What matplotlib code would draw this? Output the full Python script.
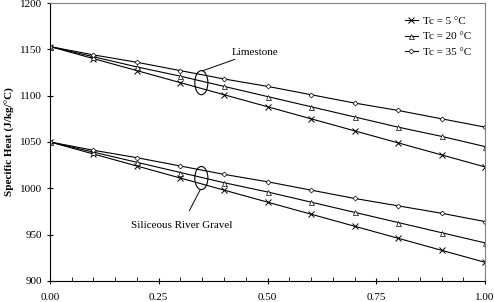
import matplotlib.pyplot as plt
from matplotlib.patches import Ellipse
from matplotlib.ticker import MultipleLocator

plt.rcParams['font.family'] = ['Liberation Serif', 'DejaVu Serif']

# moisture ratio on the x axis
x = [0.0, 0.1, 0.2, 0.3, 0.4, 0.5, 0.6, 0.7, 0.8, 0.9, 1.0]

# Limestone
lime_5 = [1153, 1140, 1127, 1114, 1101, 1088, 1075, 1062, 1049, 1036, 1023]
lime_20 = [1153, 1142, 1131, 1121, 1110, 1099, 1088, 1077, 1066, 1056, 1045]
lime_35 = [1153, 1144, 1136, 1127, 1118, 1110, 1101, 1092, 1084, 1075, 1066]

# Siliceous river gravel
sil_5 = [1050, 1037, 1024, 1011, 998, 985, 972, 959, 946, 933, 920]
sil_20 = [1050, 1039, 1028, 1017, 1006, 996, 985, 974, 963, 952, 941]
sil_35 = [1050, 1041, 1033, 1024, 1015, 1007, 998, 989, 981, 973, 964]

labels = ["Tc = 5 \u00b0C", "Tc = 20 \u00b0C", "Tc = 35 \u00b0C"]

fig = plt.figure(figsize=(4.94, 3.02), dpi=100)
ax = fig.add_axes([0.101, 0.070, 0.881, 0.920])

styles = [
    dict(marker="x", markersize=4, mew=0.7),
    dict(marker="^", markersize=3.6, mfc="white", mew=0.5),
    dict(marker="D", markersize=2.5, mfc="white", mew=0.5),
]

for ys, lab, st in zip([lime_5, lime_20, lime_35], labels, styles):
    ax.plot(x, ys, color="black", lw=0.8, label=lab, **st)
for ys, st in zip([sil_5, sil_20, sil_35], styles):
    ax.plot(x, ys, color="black", lw=0.8, **st)

# ellipses marking each group
ax.add_patch(Ellipse((0.348, 1114), 0.030, 26, fill=False, lw=0.8, ec="black"))
ax.add_patch(Ellipse((0.348, 1011), 0.030, 25, fill=False, lw=0.8, ec="black"))

ax.annotate("Limestone", xy=(0.352, 1127), xytext=(0.418, 1147),
            fontsize=8, va="center", ha="left",
            arrowprops=dict(arrowstyle="-", lw=0.7, color="black", shrinkA=0, shrinkB=0))
ax.annotate("Siliceous River Gravel", xy=(0.345, 998), xytext=(0.303, 960),
            fontsize=8, va="center", ha="center",
            arrowprops=dict(arrowstyle="-", lw=0.7, color="black", shrinkA=6, shrinkB=0))

ax.set_xlim(0, 1)
ax.set_ylim(900, 1200)
ax.xaxis.set_major_locator(MultipleLocator(0.25))
ax.xaxis.set_minor_locator(MultipleLocator(0.05))
ax.yaxis.set_major_locator(MultipleLocator(50))
ax.set_xticklabels(["%.2f" % v for v in ax.get_xticks()])
ax.tick_params(axis="both", which="major", direction="inout", length=5, width=0.8,
               labelsize=8)
ax.tick_params(axis="x", which="major", pad=6)
ax.tick_params(axis="y", which="major", pad=3)
ax.tick_params(axis="x", which="minor", direction="in", length=3, width=0.6)
ax.set_ylabel("Specific Heat (J/kg/\u00b0C)", fontsize=8, fontweight="bold", labelpad=4)

for s in ["top", "right"]:
    ax.spines[s].set_color("#808080")
for s in ["left", "bottom"]:
    ax.spines[s].set_linewidth(0.8)

ax.legend(loc="upper right", frameon=False, fontsize=8, handlelength=1.2,
          handletextpad=0.4, labelspacing=0.55, bbox_to_anchor=(0.99, 0.99))

fig.savefig("out.png", dpi=100)
